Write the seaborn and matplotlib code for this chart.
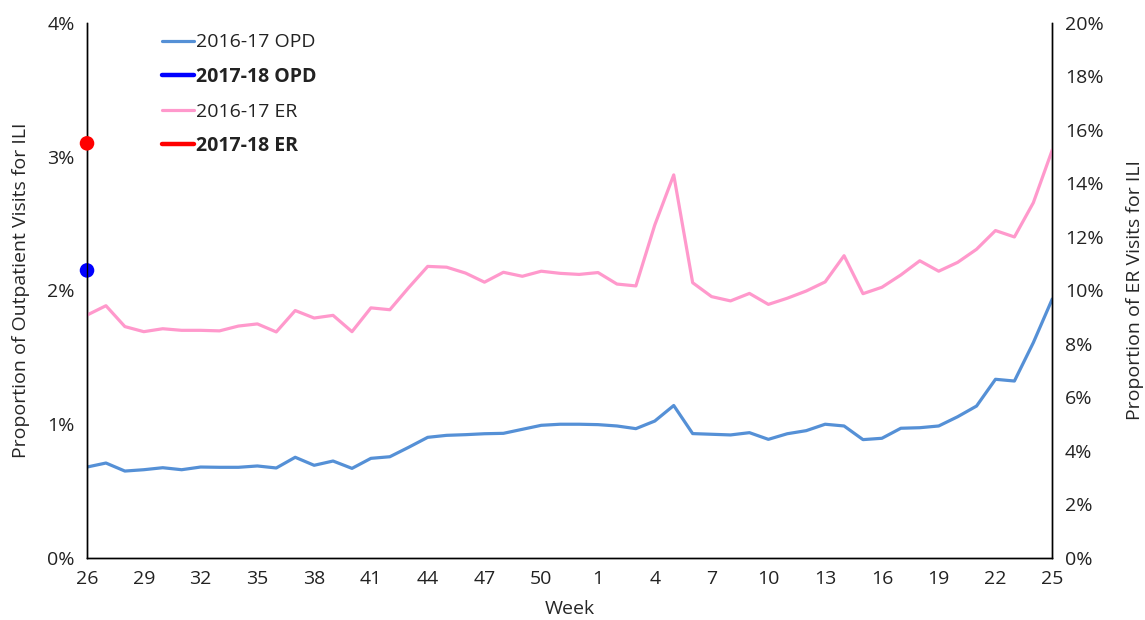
import pandas as pd
import matplotlib.pyplot as plt
import seaborn as sns
from matplotlib.lines import Line2D
from matplotlib.ticker import FuncFormatter

sns.set_style("white")
plt.rcParams["font.family"] = ["Open Sans", "DejaVu Sans"]

# === Data (percent) ===
weeks = [26, 27, 28, 29, 30, 31, 32, 33, 34, 35, 36, 37, 38, 39, 40, 41, 42, 43,
         44, 45, 46, 47, 48, 49, 50, 51, 52, 1, 2, 3, 4, 5, 6, 7, 8, 9, 10, 11,
         12, 13, 14, 15, 16, 17, 18, 19, 20, 21, 22, 23, 24, 25]

opd_1617 = [0.68, 0.71, 0.65, 0.66, 0.675, 0.66, 0.68, 0.678, 0.678, 0.688,
            0.673, 0.753, 0.693, 0.725, 0.67, 0.745, 0.757, 0.828, 0.902, 0.917,
            0.922, 0.929, 0.932, 0.962, 0.992, 1.0, 1.0, 0.997, 0.987, 0.967,
            1.024, 1.14, 0.93, 0.925, 0.92, 0.937, 0.887, 0.929, 0.952, 1.0,
            0.987, 0.885, 0.895, 0.97, 0.974, 0.987, 1.056, 1.136, 1.336, 1.323,
            1.61, 1.936]

er_1617 = [9.08, 9.43, 8.65, 8.46, 8.57, 8.51, 8.51, 8.49, 8.67, 8.75, 8.45,
           9.25, 8.97, 9.07, 8.46, 9.35, 9.28, 10.11, 10.9, 10.87, 10.65, 10.31,
           10.68, 10.53, 10.72, 10.64, 10.6, 10.67, 10.24, 10.17, 12.45, 14.32,
           10.29, 9.77, 9.61, 9.89, 9.48, 9.71, 9.98, 10.32, 11.3, 9.88, 10.12,
           10.58, 11.11, 10.72, 11.05, 11.54, 12.24, 12.0, 13.28, 15.25]

# 2017-18 season so far: only week 26
opd_1718 = [2.15]
er_1718 = [15.5]

blue_light = "#5590D6"
pink = "#FF99CC"

df = pd.DataFrame({"pos": range(len(weeks)), "week": weeks,
                   "opd": opd_1617, "er": er_1617})
df_new = pd.DataFrame({"pos": range(len(opd_1718)), "opd": opd_1718, "er": er_1718})

fig = plt.figure(figsize=(11.45, 6.2), dpi=100)
ax = fig.add_axes([0.076, 0.1, 0.843, 0.863])
ax2 = ax.twinx()

sns.lineplot(data=df, x="pos", y="opd", ax=ax, color=blue_light, linewidth=2.3)
sns.lineplot(data=df, x="pos", y="er", ax=ax2, color=pink, linewidth=2.3)
sns.scatterplot(data=df_new, x="pos", y="opd", ax=ax, color="#0000FF", s=110,
                edgecolor="none", clip_on=False, zorder=5)
sns.scatterplot(data=df_new, x="pos", y="er", ax=ax2, color="#FF0000", s=110,
                edgecolor="none", clip_on=False, zorder=5)

# axes
ax.set_xlim(0, len(weeks) - 1)
ax.set_ylim(0, 4)
ax2.set_ylim(0, 20)
ax.set_yticks([0, 1, 2, 3, 4])
ax2.set_yticks(range(0, 21, 2))
ax.yaxis.set_major_formatter(FuncFormatter(lambda v, p: f"{v:.0f}%"))
ax2.yaxis.set_major_formatter(FuncFormatter(lambda v, p: f"{v:.0f}%"))
ax.set_xticks(df["pos"][::3])
ax.set_xticklabels(df["week"][::3])

for a in (ax, ax2):
    a.tick_params(axis="both", length=0, labelsize=14, colors="#222222", pad=9)
    a.grid(False)
    for s in a.spines.values():
        s.set_color("black")
        s.set_linewidth(1.0)
    a.spines["top"].set_visible(False)

ax.set_xlabel("Week", fontsize=14, labelpad=8)
ax.set_ylabel("Proportion of Outpatient Visits for ILI", fontsize=14, labelpad=12)
ax2.set_ylabel("Proportion of ER Visits for ILI", fontsize=14, rotation=90,
               labelpad=16)

handles = [
    Line2D([], [], color=blue_light, linewidth=2.3),
    Line2D([], [], color="#0000FF", linewidth=3.2),
    Line2D([], [], color=pink, linewidth=2.3),
    Line2D([], [], color="#FF0000", linewidth=3.2),
]
labels = ["2016-17 OPD", "2017-18 OPD", "2016-17 ER", "2017-18 ER"]
leg = ax.legend(handles, labels, loc="upper left", bbox_to_anchor=(0.06, 1.013),
                frameon=False, fontsize=14, handlelength=1.6, handletextpad=0.15,
                labelspacing=0.8)
for i, t in enumerate(leg.get_texts()):
    t.set_color("#222222")
    if i in (1, 3):
        t.set_fontweight("bold")

plt.savefig("out.png", dpi=100)
